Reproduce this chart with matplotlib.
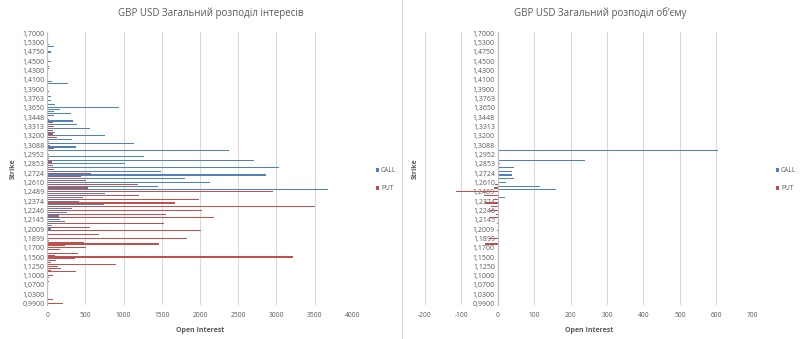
import numpy as np
import matplotlib.pyplot as plt
from matplotlib.lines import Line2D

plt.rcParams['font.family'] = ['Open Sans', 'DejaVu Sans']

# strike labels shown on the axis (every 5th row of the table)
strike_labels = ['1,7000', '1,5300', '1,4750', '1,4500', '1,4300', '1,4100',
                 '1,3900', '1,3763', '1,3650', '1,3448', '1,3313', '1,3200',
                 '1,3088', '1,2952', '1,2853', '1,2724', '1,2610', '1,2489',
                 '1,2374', '1,2246', '1,2145', '1,2009', '1,1899', '1,1700',
                 '1,1500', '1,1250', '1,1000', '1,0700', '1,0300', '0,9900']

# open interest per table row (top row = 1,7000)
call_oi = [15, 0, 10, 10, 15, 15, 20, 85, 0, 0,
           45, 10, 10, 0, 0, 45, 0, 0, 0, 0,
           10, 0, 0, 10, 0, 0, 60, 270, 0, 0,
           0, 0, 10, 0, 55, 0, 45, 0, 104, 0,
           946, 174, 95, 317, 95, 0, 0, 334, 0, 395,
           0, 555, 0, 108, 0, 750, 0, 321, 0, 1141,
           0, 373, 0, 2378, 0, 0, 1272, 0, 2708, 0,
           1024, 0, 3029, 0, 1493, 0, 2870, 0, 1801, 0,
           2127, 0, 1445, 0, 3680, 0, 751, 0, 469, 0,
           412, 0, 738, 0, 326, 0, 265, 0, 152, 0,
           165, 230, 0, 61, 0, 56, 0, 10, 0, 0,
           0, 20, 0, 0, 0, 0, 0, 0, 0, 0,
           0, 0, 0, 0, 0, 0, 0, 0, 0, 0,
           0, 0, 0, 0, 0, 0, 0, 0, 0, 0,
           0, 0, 0, 0, 0, 0]
put_oi = [0, 0, 0, 0, 0, 0, 0, 0, 0, 0,
          0, 0, 0, 0, 0, 0, 0, 0, 30, 25,
          0, 0, 0, 0, 0, 0, 0, 0, 0, 0,
          15, 25, 0, 0, 0, 0, 0, 0, 0, 0,
          0, 0, 0, 0, 0, 0, 20, 0, 70, 0,
          87, 0, 70, 0, 70, 0, 122, 0, 26, 0,
          35, 0, 95, 0, 15, 30, 0, 26, 0, 61,
          0, 70, 0, 87, 0, 577, 0, 447, 0, 512,
          0, 1185, 0, 534, 0, 2956, 0, 1206, 0, 1988,
          0, 1675, 0, 3507, 0, 2022, 0, 1558, 0, 2183,
          0, 0, 1532, 0, 556, 0, 2009, 0, 673, 0,
          1827, 0, 482, 1467, 239, 503, 174, 0, 408, 104,
          3212, 365, 117, 48, 894, 143, 182, 48, 382, 9,
          70, 26, 0, 26, 0, 0, 0, 15, 0, 0,
          0, 0, 15, 70, 0, 208]

# volume per row (puts drawn as negative)
call_vol = [0] * 61 + [3, 0, 605, 0, 0, 0, 0, 239, 0, 6,
                       0, 44, 0, 39, 0, 40, 0, 46, 0, 23,
                       0, 117, 0, 160, 0, 0, 0, 21] + [0] * 57
put_vol = [0] * 81 + [-7, 0, -11, 0, -115, 0, -37, 0, -9, 0,
                      -36, 0, -18, 0, -21, 0, -5, 0, -20, 0,
                      0, -3, 0, 0, 0, -3, 0, 0, 0, -25,
                      0, 0, -35] + [0] * 32

blue = '#4F81BD'
red = '#C0504D'
grid_c = '#D9D9D9'
txt_c = '#595959'

rows = np.arange(len(call_oi))
label_pos = rows[::5]

fig = plt.figure(figsize=(8, 3.39), dpi=100)
ax1 = fig.add_axes([0.059, 0.100, 0.382, 0.806])
ax2 = fig.add_axes([0.531, 0.100, 0.410, 0.806])
# volume chart: strike axis sits on the zero line
ax2.spines['left'].set_position(('data', 0))


def style(ax):
    ax.set_ylim(len(rows) - 0.2, -0.8)
    ax.set_yticks(label_pos)
    ax.set_yticklabels(strike_labels, fontsize=5, color=txt_c)
    ax.tick_params(axis='both', length=0, pad=2)
    ax.tick_params(axis='x', labelsize=4.8, labelcolor=txt_c, pad=5)
    ax.grid(axis='x', color=grid_c, linewidth=0.8)
    ax.set_axisbelow(True)
    for s in ['top', 'right', 'bottom']:
        ax.spines[s].set_visible(False)
    ax.spines['left'].set_color('#BFBFBF')
    ax.spines['left'].set_linewidth(0.8)
    ax.set_xlabel('Open Interest', fontsize=5, fontweight='bold', color=txt_c, labelpad=6)
    ax.set_ylabel('Strike', fontsize=5, fontweight='bold', color=txt_c)
    ax.xaxis.set_major_formatter(lambda v, p: f'{v:.0f}')


# left: open interest
ax1.barh(rows, call_oi, height=0.6, color=blue, label='CALL')
ax1.barh(rows, put_oi, height=0.6, color=red, label='PUT')
ax1.set_xlim(0, 4000)
ax1.set_xticks(range(0, 4001, 500))
style(ax1)
ax1.yaxis.set_label_coords(-0.1, 0.5)
fig.text(0.264, 0.962, 'GBP USD Загальний розподіл інтересів', ha='center', va='center',
         fontsize=7, color=txt_c)

# right: volume
ax2.barh(rows, call_vol, height=0.6, color=blue, label='CALL')
ax2.barh(rows, put_vol, height=0.6, color=red, label='PUT')
ax2.set_xlim(-200, 700)
ax2.set_xticks(range(-200, 701, 100))
style(ax2)
ax2.yaxis.set_label_coords(-0.018, 0.5)
fig.text(0.750, 0.962, 'GBP USD Загальний розподіл об’єму', ha='center', va='center',
         fontsize=7, color=txt_c)

for ax, x in [(ax1, 0.462), (ax2, 0.962)]:
    ax.legend(loc='center left', bbox_to_anchor=(x, 0.47), bbox_transform=fig.transFigure,
              frameon=False, fontsize=4.8, handlelength=0.5, handleheight=0.5,
              handletextpad=0.3, labelspacing=1.6, labelcolor=txt_c)

# border between the two charts
fig.add_artist(Line2D([0.503, 0.503], [0.0, 1.0], color=grid_c, linewidth=0.8))

fig.savefig('out.png', dpi=100)
